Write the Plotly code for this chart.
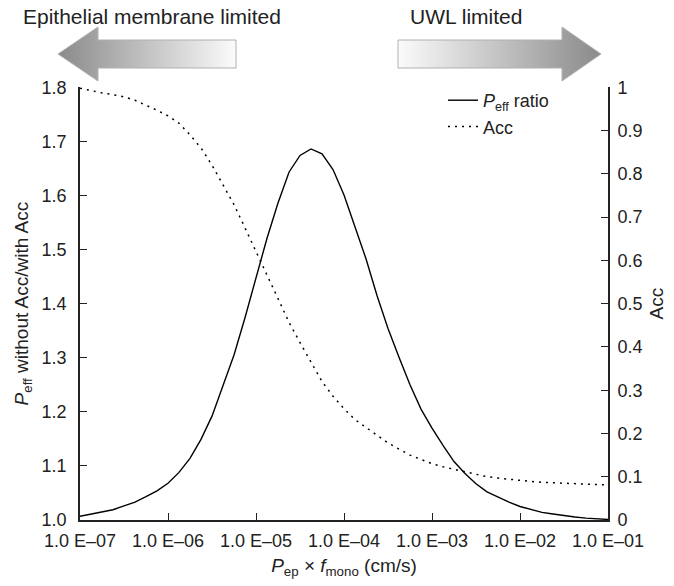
import plotly.graph_objects as go

# ---- data ----
x_vals = [
    1.0e-7, 1.334e-7, 1.778e-7, 2.371e-7, 3.162e-7, 4.217e-7, 5.623e-7, 7.499e-7,
    1.0e-6, 1.334e-6, 1.778e-6, 2.371e-6, 3.162e-6, 4.217e-6, 5.623e-6, 7.499e-6,
    1.0e-5, 1.334e-5, 1.778e-5, 2.371e-5, 3.162e-5, 4.217e-5, 5.623e-5, 7.499e-5,
    1.0e-4, 1.334e-4, 1.778e-4, 2.371e-4, 3.162e-4, 4.217e-4, 5.623e-4, 7.499e-4,
    1.0e-3, 1.334e-3, 1.778e-3, 2.371e-3, 3.162e-3, 4.217e-3, 5.623e-3, 7.499e-3,
    1.0e-2, 1.334e-2, 1.778e-2, 2.371e-2, 3.162e-2, 4.217e-2, 5.623e-2, 7.499e-2,
    1.0e-1,
]
peff_ratio = [
    1.007, 1.011, 1.014, 1.019, 1.026, 1.033, 1.043, 1.054,
    1.068, 1.088, 1.114, 1.149, 1.192, 1.249, 1.305, 1.374,
    1.448, 1.521, 1.586, 1.643, 1.674, 1.686, 1.677, 1.648,
    1.601, 1.543, 1.483, 1.415, 1.354, 1.301, 1.250, 1.205,
    1.170, 1.138, 1.108, 1.086, 1.067, 1.052, 1.042, 1.033,
    1.025, 1.019, 1.014, 1.011, 1.008, 1.0055, 1.0035, 1.002, 1.001,
]
acc = [
    0.998, 0.992, 0.987, 0.983, 0.978, 0.970, 0.959, 0.947,
    0.934, 0.917, 0.890, 0.860, 0.820, 0.775, 0.729, 0.675,
    0.622, 0.566, 0.512, 0.457, 0.410, 0.364, 0.320, 0.286,
    0.257, 0.232, 0.213, 0.196, 0.178, 0.163, 0.150, 0.140,
    0.130, 0.123, 0.117, 0.111, 0.105, 0.100, 0.097, 0.094,
    0.091, 0.089, 0.087, 0.086, 0.084, 0.083, 0.082, 0.081, 0.081,
]
x_tickvals = [1e-7, 1e-6, 1e-5, 1e-4, 1e-3, 1e-2, 1e-1]
x_ticktext = ["1.0 E\u201307", "1.0 E\u201306", "1.0 E\u201305", "1.0 E\u201304",
              "1.0 E\u201303", "1.0 E\u201302", "1.0 E\u201301"]
y_tickvals = [1.0, 1.1, 1.2, 1.3, 1.4, 1.5, 1.6, 1.7, 1.8]
y2_tickvals = [0, 0.1, 0.2, 0.3, 0.4, 0.5, 0.6, 0.7, 0.8, 0.9, 1]
y2_ticktext = ["0", "0.1", "0.2", "0.3", "0.4", "0.5", "0.6", "0.7", "0.8", "0.9", "1"]

# decorative arrows (pixel coordinates of the header band)
left_arrow_x = [58, 98, 98, 236, 236, 98, 98, 58]
left_arrow_y = [54, 27, 40, 40, 68, 68, 81, 54]
right_arrow_x = [398, 562, 562, 601, 562, 562, 398, 398]
right_arrow_y = [40, 40, 27, 54, 81, 68, 68, 40]

W, H = 674, 586
FONT = "Liberation Sans, Arial, sans-serif"
L, R, T, B = 80, 608, 87.3, 520

fig = go.Figure()

fig.add_trace(go.Scatter(
    x=x_vals, y=peff_ratio, mode="lines", name="<i>P</i><sub>eff</sub> ratio",
    line=dict(color="black", width=1.4), xaxis="x", yaxis="y"))
fig.add_trace(go.Scatter(
    x=x_vals, y=acc, mode="lines", name="Acc",
    line=dict(color="black", width=1.5, dash="2px,5px"), xaxis="x", yaxis="y2"))

fig.add_trace(go.Scatter(
    x=left_arrow_x, y=left_arrow_y, mode="lines", fill="toself",
    line=dict(color="#b0b0b0", width=1),
    fillgradient=dict(type="horizontal", colorscale=[[0, "#8a8a8a"], [1, "#fbfbfb"]]),
    showlegend=False, hoverinfo="skip", xaxis="x3", yaxis="y3"))
fig.add_trace(go.Scatter(
    x=right_arrow_x, y=right_arrow_y, mode="lines", fill="toself",
    line=dict(color="#b0b0b0", width=1),
    fillgradient=dict(type="horizontal", colorscale=[[0, "#fbfbfb"], [1, "#8a8a8a"]]),
    showlegend=False, hoverinfo="skip", xaxis="x3", yaxis="y3"))

tickfont = dict(family=FONT, size=18, color="#222")
fig.update_layout(
    width=W, height=H,
    margin=dict(l=0, r=0, t=0, b=0, pad=0, autoexpand=False),
    paper_bgcolor="white", plot_bgcolor="rgba(0,0,0,0)",
    font=dict(family=FONT, size=18, color="#222"),
    xaxis=dict(
        type="log", range=[-7, -1], domain=[L / W, R / W], automargin=False,
        tickvals=x_tickvals, ticktext=x_ticktext, tickfont=tickfont,
        ticks="inside", ticklen=7, tickwidth=1.2, tickcolor="#222",
        showline=True, linecolor="#222", linewidth=1.6,
        showgrid=False, zeroline=False, ticklabelstandoff=4,
        title=dict(text="<i>P</i><sub>ep</sub> \u00d7 <i>f</i><sub>mono</sub> (cm/s)",
                   font=dict(family=FONT, size=19, color="#222"), standoff=8),
        anchor="y",
    ),
    yaxis=dict(
        range=[1.0, 1.8], domain=[(H - B) / H, (H - T) / H], automargin=False,
        tickvals=y_tickvals, tickformat=".1f", tickfont=tickfont,
        ticks="inside", ticklen=7, tickwidth=1.2, tickcolor="#222",
        showline=True, linecolor="#222", linewidth=1.6,
        showgrid=False, zeroline=False, ticklabelstandoff=8,
        title=dict(text="<i>P</i><sub>eff</sub> without Acc/with Acc",
                   font=dict(family=FONT, size=19, color="#222"), standoff=8),
        anchor="x",
    ),
    yaxis2=dict(
        range=[0, 1], overlaying="y", side="right", anchor="x", automargin=False,
        tickvals=y2_tickvals, ticktext=y2_ticktext, tickfont=tickfont,
        ticks="inside", ticklen=7, tickwidth=1.2, tickcolor="#222",
        showline=True, linecolor="#222", linewidth=1.6,
        showgrid=False, zeroline=False, ticklabelstandoff=4,
        title=dict(text="Acc", font=dict(family=FONT, size=19, color="#222"), standoff=8),
    ),
    xaxis3=dict(domain=[0, 1], range=[0, W], visible=False, anchor="y3",
                fixedrange=True, automargin=False),
    yaxis3=dict(domain=[1 - T / H, 1], range=[T, 0], visible=False, anchor="x3",
                fixedrange=True, automargin=False),
    legend=dict(
        x=443 / W, y=1 - 82 / H, xanchor="left", yanchor="top",
        bgcolor="rgba(0,0,0,0)", font=dict(family=FONT, size=18, color="#222"),
        itemwidth=30, tracegroupgap=0,
    ),
    showlegend=True,
    annotations=[
        dict(text="Epithelial membrane limited", x=152 / W, y=1 - 17 / H,
             xref="paper", yref="paper", showarrow=False, xanchor="center", yanchor="middle",
             font=dict(family=FONT, size=21, color="#222")),
        dict(text="UWL limited", x=466 / W, y=1 - 17 / H,
             xref="paper", yref="paper", showarrow=False, xanchor="center", yanchor="middle",
             font=dict(family=FONT, size=21, color="#222")),
    ],
)

fig.write_html("out.html")
